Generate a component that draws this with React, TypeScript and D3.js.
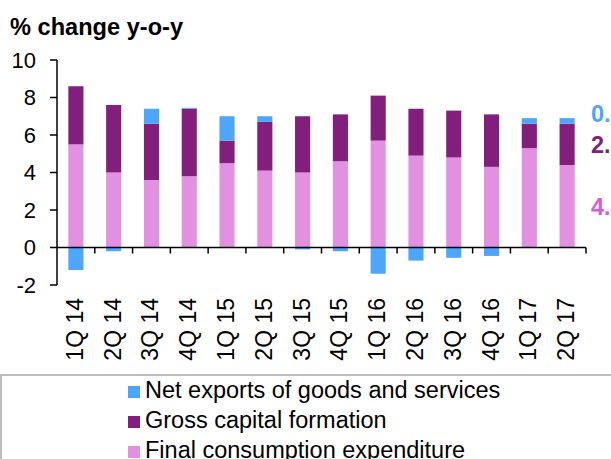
import React from 'react';
import * as d3 from 'd3';

const quarters = ['1Q 14', '2Q 14', '3Q 14', '4Q 14', '1Q 15', '2Q 15', '3Q 15', '4Q 15', '1Q 16', '2Q 16', '3Q 16', '4Q 16', '1Q 17', '2Q 17'];
const finalConsumption = [5.5, 4.0, 3.6, 3.8, 4.5, 4.1, 4.0, 4.6, 5.7, 4.9, 4.8, 4.3, 5.3, 4.4];
const grossCapital = [3.1, 3.6, 3.0, 3.6, 1.2, 2.6, 3.0, 2.5, 2.4, 2.5, 2.5, 2.8, 1.3, 2.2];
const netExports = [-1.2, -0.2, 0.8, 0.05, 1.3, 0.3, -0.1, -0.2, -1.4, -0.7, -0.55, -0.45, 0.3, 0.3];
const yTicks = [-2, 0, 2, 4, 6, 8, 10];

const keys = ['fce', 'gcf', 'ne'];
const colors = { fce: '#e191e0', gcf: '#821f7d', ne: '#4ea6fb' };
const labelColors = { fce: '#d65cd6', gcf: '#821f7d', ne: '#4ea6fb' };
const legendItems = [
  { key: 'ne', label: 'Net exports of goods and services' },
  { key: 'gcf', label: 'Gross capital formation' },
  { key: 'fce', label: 'Final consumption expenditure' },
];

const font = '"Liberation Sans", Arial, sans-serif';

const App = () => {
  const width = 611;
  const height = 459;
  const left = 57, right = 586, top = 60, bottom = 285;

  const rows = quarters.map((q, i) => ({ q, fce: finalConsumption[i], gcf: grossCapital[i], ne: netExports[i] }));
  const series = d3.stack().keys(keys).offset(d3.stackOffsetDiverging)(rows as any);

  const xScale = d3.scaleBand().domain(quarters).range([left, right]).paddingInner(0.6).paddingOuter(0.3);
  const yScale = d3.scaleLinear().domain([-2, 10]).range([bottom, top]);
  const step = xScale.step();
  const boundaries = d3.range(quarters.length + 1).map(i => left + i * step);

  const last = rows.length - 1;
  const lastSeries = Object.fromEntries(series.map(s => [s.key, s[last]]));
  const labelX = 591;

  return (
    <svg width={width} height={height} style={{ position: 'absolute', left: 0, top: 0, fontFamily: font }}>
      <text x={10} y={35} fontSize={23.6} fontWeight='bold' fill='#000'>% change y-o-y</text>

      {series.map(s => (
        <g key={s.key} fill={colors[s.key]}>
          {s.map((d, i) => (
            <rect key={i}
              x={xScale(quarters[i])}
              width={xScale.bandwidth()}
              y={yScale(Math.max(d[0], d[1]))}
              height={Math.abs(yScale(d[0]) - yScale(d[1]))} />
          ))}
        </g>
      ))}

      {/* y axis */}
      <line x1={left} x2={left} y1={top} y2={bottom} stroke='#000' strokeWidth={1.5} />
      {yTicks.map(t => (
        <g key={t}>
          <line x1={left - 7} x2={left} y1={yScale(t)} y2={yScale(t)} stroke='#000' strokeWidth={1.5} />
          <text x={36} y={yScale(t)} dy='0.36em' textAnchor='end' fontSize={22} fill='#000'>{t}</text>
        </g>
      ))}

      {/* x axis at zero */}
      <line x1={left} x2={right} y1={yScale(0)} y2={yScale(0)} stroke='#000' strokeWidth={1.5} />
      {boundaries.slice(1).map((bx, i) => (
        <line key={i} x1={bx} x2={bx} y1={yScale(0)} y2={yScale(0) + 6} stroke='#000' strokeWidth={1.5} />
      ))}
      {quarters.map(q => {
        const cx = xScale(q) + xScale.bandwidth() / 2;
        return (
          <text key={q} transform={`translate(${cx + 7},298) rotate(-90)`} textAnchor='end' fontSize={23} fill='#000'>{q}</text>
        );
      })}

      {/* data labels of last bar, cut at the edge as in the source */}
      <text x={labelX} y={yScale(lastSeries.ne[1]) - 5} dy='0.36em' fontSize={23.5} fontWeight='bold' fill={labelColors.ne}>
        {netExports[last].toFixed(1)}
      </text>
      <text x={labelX} y={yScale((lastSeries.gcf[0] + lastSeries.gcf[1]) / 2)} dy='0.36em' fontSize={23.5} fontWeight='bold' fill={labelColors.gcf}>
        {grossCapital[last].toFixed(1)}
      </text>
      <text x={labelX} y={yScale((lastSeries.fce[0] + lastSeries.fce[1]) / 2)} dy='0.36em' fontSize={23.5} fontWeight='bold' fill={labelColors.fce}>
        {finalConsumption[last].toFixed(1)}
      </text>

      {/* legend */}
      <rect x={1} y={375} width={700} height={200} fill='none' stroke='#ababab' strokeWidth={1.5} />
      {legendItems.map((item, i) => (
        <g key={item.key} transform={`translate(128,${398 + i * 30})`}>
          <rect x={0} y={-12} width={12} height={12} fill={colors[item.key]} />
          <text x={17} y={0} fontSize={23.5} fill='#000'>{item.label}</text>
        </g>
      ))}
    </svg>
  );
};

export default App;
